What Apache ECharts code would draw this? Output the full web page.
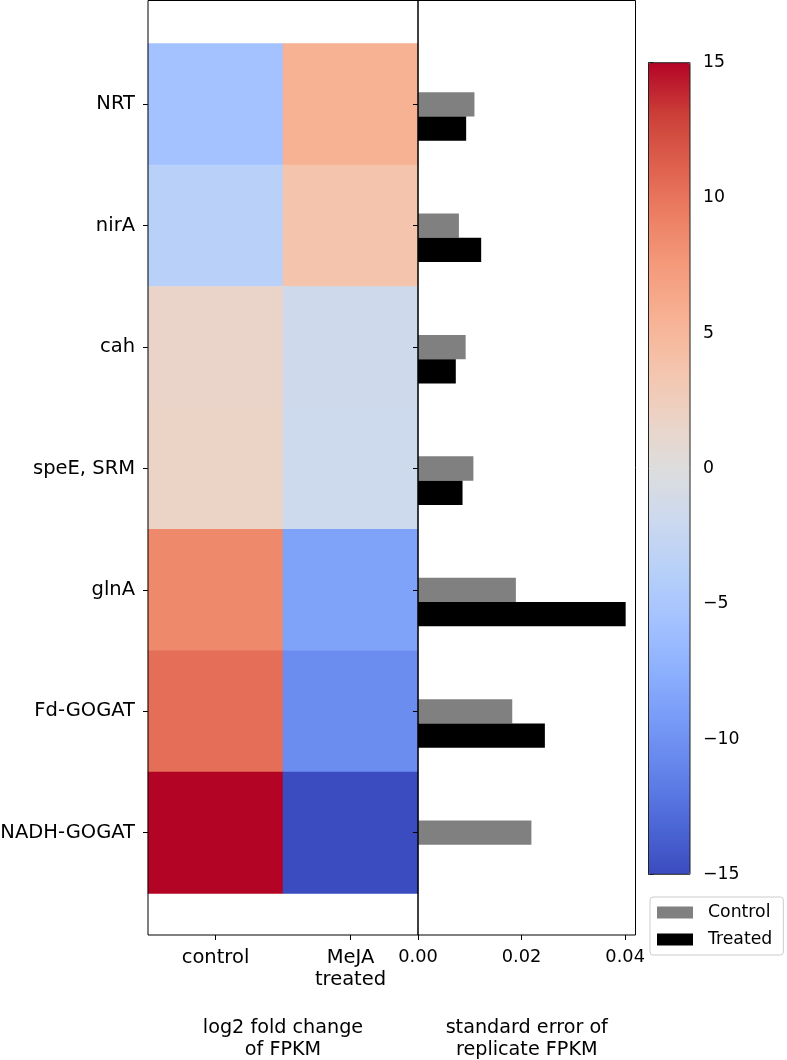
<!DOCTYPE html>
<html>
<head>
<meta charset="utf-8">
<style>
  html, body { margin: 0; padding: 0; background: #fff; }
  #chart { width: 787px; height: 1060px; }
</style>
<script src="https://cdn.jsdelivr.net/npm/echarts@6/dist/echarts.min.js"></script>
</head>
<body>
<div id="chart"></div>
<script>
// ---- data ----
const genes = ['NRT', 'nirA', 'cah', 'speE, SRM', 'glnA', 'Fd-GOGAT', 'NADH-GOGAT'];
const conditions = ['control', 'MeJA\ntreated'];
const log2fcControl = [-5.6, -3.7, 1.6, 1.8, 8.7, 10.4, 15];
const log2fcTreated = [5.6, 3.7, -1.7, -1.8, -8.6, -10.4, -15];
const seControl = [0.0109, 0.0079, 0.0092, 0.0107, 0.0189, 0.0182, 0.0219];
const seTreated = [0.0093, 0.0122, 0.0073, 0.0086, 0.0401, 0.0245, 0];
const seTicks = [0, 0.02, 0.04];
const colorbarMin = -15, colorbarMax = 15, colorbarStep = 5;
const legendNames = ['Control', 'Treated'];

// coolwarm colormap samples (style)
const coolwarm = ['#3b4cc0','#4d68d7','#6282ea','#779af7','#8db0fe','#a3c2ff','#b8d0f9','#ccd9ee',
  '#dddddd','#ecd3c5','#f5c4ac','#f7b193','#f49a7b','#ec7f63','#de604d','#cb3e38','#b40426'];

const heatData = [];
genes.forEach((g, i) => {
  heatData.push([0, i, log2fcControl[i]]);
  heatData.push([1, i, log2fcTreated[i]]);
});

const FONT = 'DejaVu Sans';
const rowH = 121.4;
const heatTop = 43.6;
const barH = rowH * 0.2;
const NB = { outerBoundsMode: 'none', containLabel: false };

const chart = echarts.init(document.getElementById('chart'), null, { renderer: 'canvas' });
chart.setOption({
  animation: false,
  textStyle: { fontFamily: FONT, color: '#000' },
  grid: [
    // 0: left frame
    Object.assign({ left: 148, top: 0.5, width: 270, height: 934.5, show: true, borderColor: '#000', borderWidth: 1, backgroundColor: 'transparent', z: 5 }, NB),
    // 1: heatmap cells
    Object.assign({ left: 148, top: heatTop, width: 270, height: rowH * 7, show: false }, NB),
    // 2: right frame
    Object.assign({ left: 418, top: 0.5, width: 217.5, height: 934.5, show: true, borderColor: '#000', borderWidth: 1, backgroundColor: 'transparent', z: 5 }, NB),
    // 3: bars
    Object.assign({ left: 418, top: heatTop + barH / 2, width: 217.5, height: rowH * 7, show: false }, NB),
    // 4: colorbar axis frame
    Object.assign({ left: 648.5, top: 62.7, width: 41.5, height: 811.6, show: true, borderColor: '#222', borderWidth: 1, z: 10, backgroundColor: 'transparent' }, NB)
  ],
  xAxis: [
    { gridIndex: 0, type: 'category', data: conditions, position: 'bottom',
      axisLine: { show: false }, axisTick: { show: true, length: 5, alignWithLabel: true, lineStyle: { color: '#000' } },
      axisLabel: { fontSize: 19.5, lineHeight: 22, color: '#000', margin: 12, fontFamily: FONT },
      name: 'log2 fold change\nof FPKM', nameLocation: 'middle', nameGap: 82,
      nameTextStyle: { fontSize: 19.2, lineHeight: 22, color: '#000', fontFamily: FONT, verticalAlign: 'top' } },
    { gridIndex: 1, type: 'category', data: conditions, show: false },
    { gridIndex: 2, type: 'value', min: 0, max: 0.042, position: 'bottom',
      axisLine: { show: false }, splitLine: { show: false },
      axisTick: { show: true, length: 5, customValues: seTicks, lineStyle: { color: '#000' } },
      axisLabel: { fontSize: 17.8, color: '#000', margin: 13, fontFamily: FONT, customValues: seTicks,
        formatter: v => v.toFixed(2) },
      name: 'standard error of\nreplicate FPKM', nameLocation: 'middle', nameGap: 82,
      nameTextStyle: { fontSize: 19.2, lineHeight: 22, color: '#000', fontFamily: FONT, verticalAlign: 'top' } },
    { gridIndex: 3, type: 'value', min: 0, max: 0.042, show: false },
    { gridIndex: 4, type: 'value', min: 0, max: 1, show: false }
  ],
  yAxis: [
    { gridIndex: 0, type: 'value', show: false },
    { gridIndex: 1, type: 'category', data: genes, inverse: true, position: 'left',
      axisLine: { show: false }, axisTick: { show: true, length: 5, alignWithLabel: true, lineStyle: { color: '#000' } },
      axisLabel: { fontSize: 19.5, color: '#000', margin: 13, fontFamily: FONT } },
    { gridIndex: 1, type: 'category', data: genes, inverse: true, position: 'right', z: 10,
      axisLine: { show: false }, axisTick: { show: true, inside: true, length: 5, alignWithLabel: true, lineStyle: { color: '#000' } },
      axisLabel: { show: false } },
    { gridIndex: 2, type: 'value', show: false },
    { gridIndex: 3, type: 'category', data: genes, inverse: true, show: false },
    { gridIndex: 4, type: 'value', min: colorbarMin, max: colorbarMax, interval: colorbarStep, position: 'right',
      axisLine: { show: false }, splitLine: { show: false },
      axisTick: { show: true, length: 5, lineStyle: { color: '#000' } },
      axisLabel: { fontSize: 17.3, color: '#000', margin: 13, fontFamily: FONT,
        formatter: v => String(v).replace('-', '\u2212') } }
  ],
  visualMap: {
    type: 'continuous', min: colorbarMin, max: colorbarMax, seriesIndex: 0,
    calculable: false, hoverLink: false, realtime: false,
    left: 648.5, top: 62.7, itemWidth: 41.5, itemHeight: 811.6, padding: 0,
    text: null, showLabel: false,
    inRange: { color: coolwarm }
  },
  legend: {
    data: legendNames, orient: 'vertical', left: 650, top: 897,
    backgroundColor: '#fff', borderColor: '#ccc', borderWidth: 1, borderRadius: 3,
    padding: [7, 11, 7, 7], itemWidth: 36, itemHeight: 12, itemGap: 10, icon: 'rect',
    selectedMode: false,
    textStyle: { fontSize: 17.3, color: '#000', fontFamily: FONT, padding: [0, 0, 0, 10] }
  },
  series: [
    { type: 'heatmap', xAxisIndex: 1, yAxisIndex: 1, data: heatData, silent: true,
      itemStyle: { borderWidth: 0 }, emphasis: { disabled: true } },
    { type: 'bar', name: legendNames[0], xAxisIndex: 3, yAxisIndex: 4, data: seControl,
      barWidth: barH, barGap: '0%', itemStyle: { color: '#808080' }, silent: true },
    { type: 'bar', name: legendNames[1], xAxisIndex: 3, yAxisIndex: 4, data: seTreated,
      barWidth: barH, barGap: '0%', itemStyle: { color: '#000000' }, silent: true }
  ]
});
</script>
</body>
</html>
